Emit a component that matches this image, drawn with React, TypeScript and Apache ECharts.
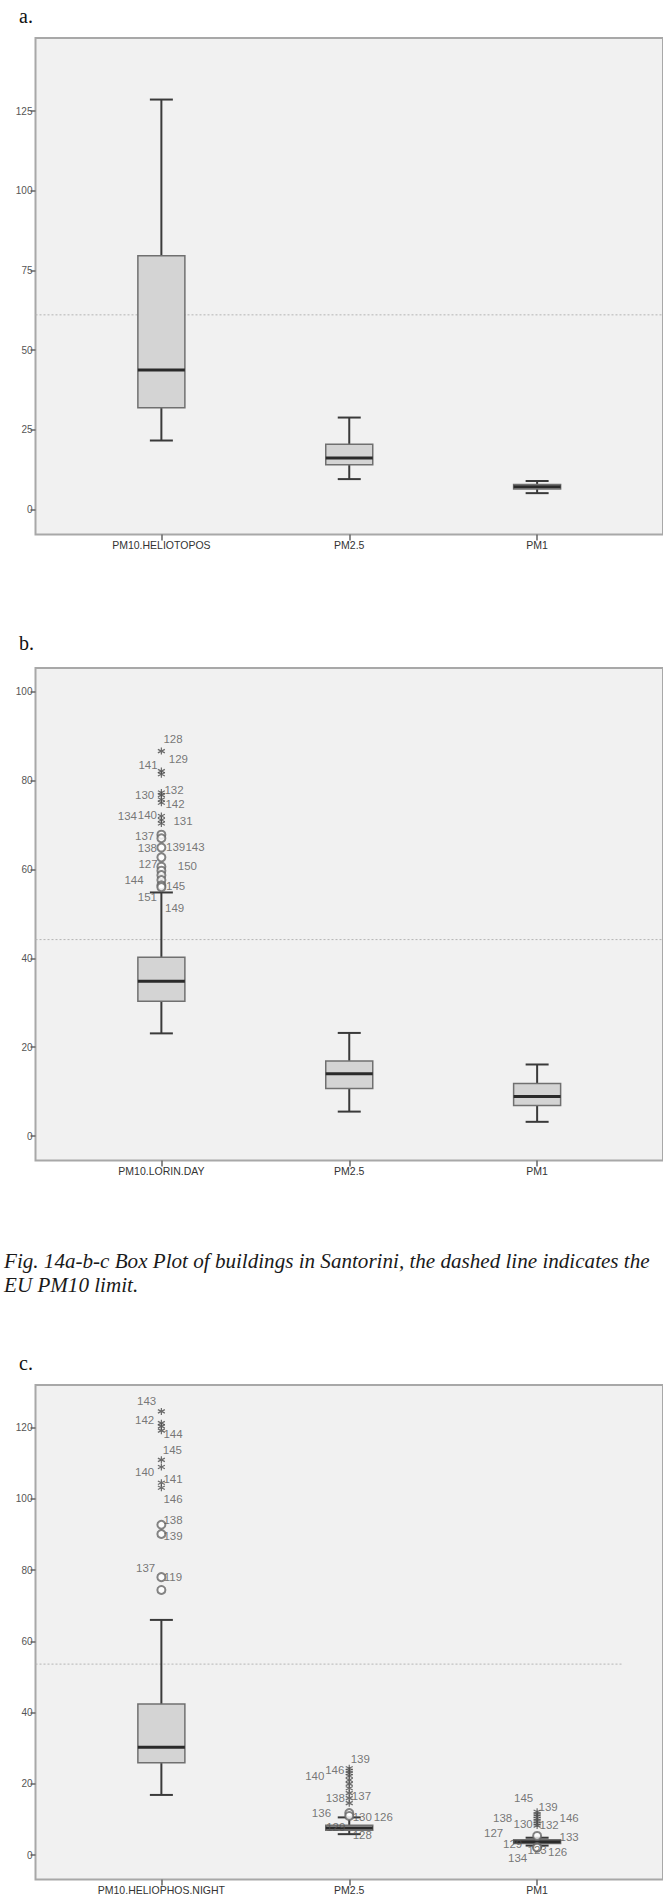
import React, { useEffect, useRef } from "react";
import * as echarts from "echarts";

// ---------- data ----------
const categoriesA = ["PM10.HELIOTOPOS", "PM2.5", "PM1"];
const categoriesB = ["PM10.LORIN.DAY", "PM2.5", "PM1"];
const categoriesC = ["PM10.HELIOPHOS.NIGHT", "PM2.5", "PM1"];

// [low whisker, Q1, median, Q3, high whisker]
const boxesA = [
  [21.7, 32.0, 43.8, 79.6, 128.6],
  [9.6, 14.1, 16.2, 20.5, 28.9],
  [5.2, 6.5, 7.2, 7.9, 9.0],
];
const boxesB = [
  [23.1, 30.3, 34.8, 40.2, 54.8],
  [5.5, 10.7, 14.0, 16.9, 23.2],
  [3.2, 6.9, 8.9, 11.8, 16.1],
];
const boxesC = [
  [16.9, 25.9, 30.3, 42.4, 66.0],
  [5.9, 7.0, 7.6, 8.4, 10.6],
  [2.7, 3.3, 3.8, 4.3, 4.9],
];

const limitA = 61.1;
const limitB = 44.2;
const limitC = 53.6;

const ticksA = [0, 25, 50, 75, 100, 125];
const ticksB = [0, 20, 40, 60, 80, 100];
const ticksC = [0, 20, 40, 60, 80, 100, 120];

// outliers (category 1 = PM10, 2 = PM2.5, 3 = PM1)
const starsB1 = [86.6, 82.1, 81.4, 77.3, 76.7, 75.7, 75.0, 72.0, 71.1, 70.3];
const circlesB1 = [67.8, 67.0, 64.9, 62.7, 60.6, 59.7, 58.7, 57.6, 56.4, 56.0];
const labelIdsB1 = ["128", "129", "141", "130", "132", "142", "134", "140", "131", "137", "138", "139", "143", "127", "150", "144", "145", "151", "149"];
const labelValsB1 = [89.3, 84.8, 83.5, 76.7, 77.8, 74.6, 72.0, 72.2, 70.9, 67.5, 64.7, 65.1, 65.1, 61.1, 60.7, 57.7, 56.3, 53.7, 51.3];

const starsC1 = [124.5, 121.2, 120.3, 119.1, 110.9, 108.9, 104.5, 103.1];
const circlesC1 = [92.7, 90.1, 78.0, 74.4];
const labelIdsC1 = ["143", "142", "144", "145", "140", "141", "146", "138", "139", "137", "119"];
const labelValsC1 = [127.5, 122.2, 118.1, 113.7, 107.4, 105.5, 100.0, 93.9, 89.4, 80.5, 77.9];

const starsC2 = [24.4, 23.7, 23.0, 22.2, 21.1, 20.0, 18.8, 17.4, 16.0, 14.6];
const circlesC2 = [11.8, 11.0];
const labelIdsC2 = ["139", "146", "140", "138", "137", "136", "130", "126", "129", "128"];
const labelValsC2 = [26.9, 23.9, 22.2, 16.0, 16.7, 11.8, 10.6, 10.6, 8.0, 5.7];

const starsC3 = [12.2, 11.5, 10.9, 10.2, 9.6, 8.9, 8.3];
const circlesC3 = [5.4, 2.3, 2.1];
const labelIdsC3 = ["145", "139", "138", "130", "132", "146", "127", "133", "129", "123", "126", "134"];
const labelValsC3 = [16.0, 13.6, 10.4, 8.8, 8.5, 10.4, 6.1, 5.0, 3.1, 1.5, 0.8, -0.9];

const captionLines = [
  "Fig. 14a-b-c Box Plot of buildings in Santorini, the dashed line indicates the",
  "EU PM10 limit.",
];
const panelLetters = ["a.", "b.", "c."];

// ---------- layout (pixels, not data) ----------
const labelDxB1 = [11.6, 17, -13.4, -16.7, 12.6, 13.6, -34, -14, 21.6, -16.7, -14, 14.3, 33.6, -13.4, 26, -27.4, 14.3, -14, 13.3];
const labelDxC1 = [-14.7, -16.7, 11.6, 11, -16.7, 11.6, 11.6, 11.6, 11.6, -15.7, 11.6];
const labelDxC2 = [11, -14.5, -34.5, -14, 12.2, -27.8, 13, 34, -13.5, 13];
const labelDxC3 = [-13.5, 11, -34.5, -14, 12, 32, -43.5, 32, -24.5, 0, 20.5, -19.5];

const FONT = "'Liberation Sans', Arial, sans-serif";
const SERIF = "'Liberation Serif', 'Times New Roman', serif";
const X_MIN = 0.33;
const X_MAX = 3.67;
const STAR = "path://M5,0L5,10M0.7,2.5L9.3,7.5M0.7,7.5L9.3,2.5";

const grids = [
  { left: 35.5, top: 38, width: 633, height: 496.6 },
  { left: 35.5, top: 668, width: 633, height: 492.5 },
  { left: 35.5, top: 1385, width: 633, height: 494.6 },
];
const yRanges = [
  [-7.8, 147.9],
  [-5.5, 105.3],
  [-6.85, 131.9],
];
const letterY = [15.5, 643.4, 1362.6];
const limitEnds = [X_MAX, X_MAX, 3.457];

function boxRender(params: any, api: any) {
  const x = api.value(0);
  const lo = api.coord([x, api.value(1)]);
  const q1 = api.coord([x, api.value(2)]);
  const md = api.coord([x, api.value(3)]);
  const q3 = api.coord([x, api.value(4)]);
  const hi = api.coord([x, api.value(5)]);
  const bw = 47;
  const cw = 23;
  const cx = md[0];
  const wStyle = { stroke: "#3a3a3a", lineWidth: 2 };
  return {
    type: "group",
    children: [
      { type: "line", shape: { x1: cx, y1: lo[1], x2: cx, y2: q1[1] }, style: wStyle },
      { type: "line", shape: { x1: cx, y1: q3[1], x2: cx, y2: hi[1] }, style: wStyle },
      { type: "line", shape: { x1: cx - cw / 2, y1: lo[1], x2: cx + cw / 2, y2: lo[1] }, style: wStyle },
      { type: "line", shape: { x1: cx - cw / 2, y1: hi[1], x2: cx + cw / 2, y2: hi[1] }, style: wStyle },
      {
        type: "rect",
        shape: { x: cx - bw / 2, y: q3[1], width: bw, height: q1[1] - q3[1] },
        style: { fill: "#d4d4d4", stroke: "#707070", lineWidth: 1.5 },
      },
      { type: "line", shape: { x1: cx - bw / 2, y1: md[1], x2: cx + bw / 2, y2: md[1] }, style: { stroke: "#2a2a2a", lineWidth: 3 } },
    ],
  };
}

export default function App() {
  const ref = useRef<HTMLDivElement>(null);
  useEffect(() => {
    if (!ref.current) return;
    const chart = echarts.init(ref.current, undefined, { renderer: "svg" });
    const cats = [categoriesA, categoriesB, categoriesC];
    const boxes = [boxesA, boxesB, boxesC];
    const limits = [limitA, limitB, limitC];
    const ticks = [ticksA, ticksB, ticksC];

    const xAxes = grids.map((_, i) => ({
      type: "value",
      gridIndex: i,
      position: "bottom",
      min: X_MIN,
      max: X_MAX,
      axisLine: { show: false, onZero: false },
      splitLine: { show: false },
      axisTick: { show: true, customValues: [1, 2, 3], length: 6, lineStyle: { color: "#666", width: 1.5 } },
      axisLabel: {
        customValues: [1, 2, 3],
        formatter: (v: number) => cats[i][Math.round(v) - 1] ?? "",
        fontSize: 10.5,
        color: "#333",
        fontFamily: FONT,
        margin: 5,
      },
    }));
    const yAxes = grids.map((_, i) => ({
      type: "value",
      gridIndex: i,
      position: "left",
      min: yRanges[i][0],
      max: yRanges[i][1],
      axisLine: { show: false, onZero: false },
      splitLine: { show: false },
      axisTick: { show: true, customValues: ticks[i], length: 5, lineStyle: { color: "#666", width: 1.5 } },
      axisLabel: {
        customValues: ticks[i],
        fontSize: 10,
        color: "#555",
        fontFamily: FONT,
        margin: 3,
      },
    }));

    const series: any[] = [];
    grids.forEach((_, i) => {
      series.push({
        type: "line",
        xAxisIndex: i,
        yAxisIndex: i,
        data: [
          [X_MIN, limits[i]],
          [limitEnds[i], limits[i]],
        ],
        symbol: "none",
        lineStyle: { color: "#b5b5b5", width: 1, type: [2, 2] },
        silent: true,
        z: 1,
      });
      series.push({
        type: "custom",
        xAxisIndex: i,
        yAxisIndex: i,
        renderItem: boxRender,
        encode: { x: 0, y: [1, 2, 3, 4, 5] },
        data: boxes[i].map((b, k) => [k + 1, ...b]),
        z: 2,
      });
    });

    const addOutliers = (gi: number, cat: number, stars: number[], circles: number[], ids: string[], vals: number[], dx: number[]) => {
      series.push({
        type: "scatter",
        xAxisIndex: gi,
        yAxisIndex: gi,
        symbol: STAR,
        symbolSize: 7,
        itemStyle: { color: "rgba(0,0,0,0)", borderColor: "#4a4a4a", borderWidth: 1.2 },
        data: stars.map((v) => [cat, v]),
        z: 3,
      });
      series.push({
        type: "scatter",
        xAxisIndex: gi,
        yAxisIndex: gi,
        symbol: "emptyCircle",
        symbolSize: 8,
        itemStyle: { color: "#666", borderWidth: 1 },
        data: circles.map((v) => [cat, v]),
        z: 3,
      });
      series.push({
        type: "scatter",
        xAxisIndex: gi,
        yAxisIndex: gi,
        symbolSize: 0,
        silent: true,
        data: ids.map((id, k) => ({
          name: id,
          value: [cat, vals[k]],
          label: { offset: [dx[k], 0] },
        })),
        label: {
          show: true,
          position: "inside",
          formatter: (p: any) => p.name,
          fontSize: 11.5,
          color: "#555",
          fontFamily: FONT,
        },
        z: 4,
      });
    };
    addOutliers(1, 1, starsB1, circlesB1, labelIdsB1, labelValsB1, labelDxB1);
    addOutliers(2, 1, starsC1, circlesC1, labelIdsC1, labelValsC1, labelDxC1);
    addOutliers(2, 2, starsC2, circlesC2, labelIdsC2, labelValsC2, labelDxC2);
    addOutliers(2, 3, starsC3, circlesC3, labelIdsC3, labelValsC3, labelDxC3);

    const graphic: any[] = panelLetters.map((t, i) => ({
      type: "text",
      x: 19,
      y: letterY[i],
      style: { text: t, fontSize: 20, fontFamily: SERIF, fill: "#111", verticalAlign: "middle" },
    }));
    captionLines.forEach((t, i) => {
      graphic.push({
        type: "text",
        x: 4,
        y: 1261 + i * 24,
        style: { text: t, fontSize: 21.1, fontStyle: "italic", fontFamily: SERIF, fill: "#1a1a1a", verticalAlign: "middle" },
      });
    });

    chart.setOption({
      animation: false,
      backgroundColor: "#ffffff",
      grid: grids.map((g) => ({
        ...g,
        show: true,
        backgroundColor: "#f1f1f1",
        borderColor: "#a8a8a8",
        borderWidth: 2,
      })),
      xAxis: xAxes,
      yAxis: yAxes,
      series,
      graphic,
    });
    return () => chart.dispose();
  }, []);
  return (
    <div
      ref={ref}
      style={{ position: "absolute", left: 0, top: 0, width: 663, height: 1899 }}
    />
  );
}
